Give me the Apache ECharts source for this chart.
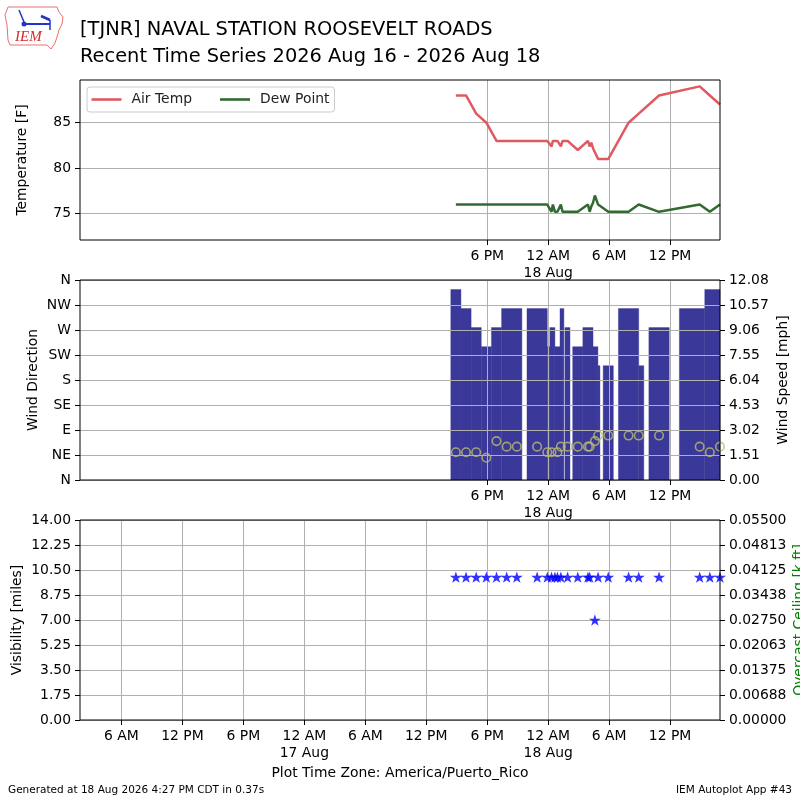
<!DOCTYPE html>
<html><head><meta charset="utf-8">
<script src="https://cdn.jsdelivr.net/npm/echarts@6/dist/echarts.min.js"></script>
<style>html,body{margin:0;padding:0;background:#fff}#c{width:800px;height:800px}</style>
</head><body><div id="c"></div>
<script>
// ---------- data ----------
const obsTime = ['2026-08-17 14:55','2026-08-17 15:55','2026-08-17 16:55','2026-08-17 17:55','2026-08-17 18:55','2026-08-17 19:55','2026-08-17 20:55','2026-08-17 22:55','2026-08-17 23:55',
  '2026-08-18 00:20','2026-08-18 00:28','2026-08-18 00:40','2026-08-18 00:55','2026-08-18 01:15','2026-08-18 01:25','2026-08-18 01:55','2026-08-18 02:55','2026-08-18 03:55',
  '2026-08-18 04:05','2026-08-18 04:15','2026-08-18 04:25','2026-08-18 04:36','2026-08-18 04:55','2026-08-18 05:55','2026-08-18 07:55','2026-08-18 08:55','2026-08-18 10:55',
  '2026-08-18 14:55','2026-08-18 15:55','2026-08-18 16:55'];
const tempF = [88,88,86,85,83,83,83,83,83, 82.4,83,83,83,82.4,83,83,82,83, 82.4,82.8,82.2,82.4,81,81,85,86,88, 89,88,87];
const dewF  = [76,76,76,76,76,76,76,76,76, 75.2,76,75.2,75.2,76,75.2,75.2,75.2,76, 75.2,75.8,76.2,77,76,75.2,75.2,76,75.2, 76,75.2,76];
const windDir = [50,50,50,40,70,60,60,60,50, 50,null,null,50,60,null,60,60,60, 60,null,null,70,80,80,80,80,80, 60,50,60];
const visMiles = [10,10,10,10,10,10,10,10,10, 10,null,10,10,10,null,10,10,10, 10,null,null,7,10,10,10,10,10, 10,10,10];

const windStart = ['2026-08-17 14:25','2026-08-17 15:25','2026-08-17 16:25','2026-08-17 17:25','2026-08-17 18:25','2026-08-17 19:25','2026-08-17 21:55','2026-08-17 23:55',
  '2026-08-18 00:10','2026-08-18 00:40','2026-08-18 01:10','2026-08-18 01:39','2026-08-18 02:25','2026-08-18 03:25','2026-08-18 04:25','2026-08-18 04:54',
  '2026-08-18 05:25','2026-08-18 06:55','2026-08-18 08:55','2026-08-18 09:55','2026-08-18 12:55','2026-08-18 15:25'];
const windEnd = ['2026-08-17 15:25','2026-08-17 16:25','2026-08-17 17:25','2026-08-17 18:25','2026-08-17 19:25','2026-08-17 21:25','2026-08-17 23:55','2026-08-18 00:10',
  '2026-08-18 00:40','2026-08-18 01:10','2026-08-18 01:33','2026-08-18 02:09','2026-08-18 03:25','2026-08-18 04:25','2026-08-18 04:54','2026-08-18 05:06',
  '2026-08-18 06:25','2026-08-18 08:55','2026-08-18 09:25','2026-08-18 11:55','2026-08-18 15:25','2026-08-18 16:55'];
const windKt = [10,9,8,7,8,9,9,7,8,7,9,8,7,8,7,6,6,9,6,8,9,10];

const axisStart = '2026-08-16 01:55';
const axisEnd = '2026-08-18 16:55';
const lowerTicks = ['2026-08-16 06:00','2026-08-16 12:00','2026-08-16 18:00','2026-08-17 00:00','2026-08-17 06:00','2026-08-17 12:00','2026-08-17 18:00','2026-08-18 00:00','2026-08-18 06:00','2026-08-18 12:00'];
const upperTicks = ['2026-08-17 18:00','2026-08-18 00:00','2026-08-18 06:00','2026-08-18 12:00'];
const tempTicks = [75,80,85];
const dirLabels = ['N','NE','E','SE','S','SW','W','NW','N'];
const visTicks = [0,1.75,3.5,5.25,7,8.75,10.5,12.25,14];
const ceilMax = 0.055;
const KT2MPH = 1.15078;
const windMaxKt = 10.5;

// ---------- helpers ----------
function t(s){const p=s.split(' ');const d=p[0].split('-').map(Number);const h=p[1].split(':').map(Number);return new Date(d[0],d[1]-1,d[2],h[0],h[1]).getTime();}
function fmtTime(v){const d=new Date(v);const h=d.getHours();let s=((h%12)||12)+' '+(h<12?'AM':'PM');if(h===0){s+='\n'+d.getDate()+' Aug';}return s;}
const FONT='DejaVu Sans';
const FS=13.9;
const GRIDC='#b0b0b0';
const xMin=t(axisStart), xMax=t(axisEnd);
const lowerT=lowerTicks.map(t), upperT=upperTicks.map(t);
const spdMax=windMaxKt*KT2MPH;
const spdTicks=[0,1,2,3,4,5,6,7,8].map(i=>i*spdMax/8);
const dirTicks=[0,1,2,3,4,5,6,7,8].map(i=>i*45);
const ceilTicks=[0,1,2,3,4,5,6,7,8].map(i=>i*ceilMax/8);

function xAxisDef(gi, ticks, z){
  return {type:'value', gridIndex:gi, min:xMin, max:xMax, z:z||0,
    axisLine:{show:false},
    axisTick:{show:true, length:5, lineStyle:{color:'#000'}, customValues:ticks},
    axisLabel:{customValues:ticks, formatter:fmtTime, color:'#000', fontFamily:FONT, fontSize:FS, lineHeight:17, margin:8},
    splitLine:{show:true, lineStyle:{color:GRIDC, width:1}}};
}
function yAxisDef(o){
  return Object.assign({type:'value', nameLocation:'middle', nameMoveOverlap:false,
    nameTextStyle:{color:'#000', fontFamily:FONT, fontSize:FS},
    axisLine:{show:false},
    axisTick:{show:true, length:5, lineStyle:{color:'#000'}},
    axisLabel:{color:'#000', fontFamily:FONT, fontSize:FS, margin:9},
    splitLine:{show:true, lineStyle:{color:GRIDC, width:1}}}, o);
}

const tempData = obsTime.map((s,i)=>[t(s), tempF[i]]);
const dewData = obsTime.map((s,i)=>[t(s), dewF[i]]);
const dirData = obsTime.map((s,i)=>[t(s), windDir[i]]).filter(d=>d[1]!=null);
const visData = obsTime.map((s,i)=>[t(s), visMiles[i]]).filter(d=>d[1]!=null);
const windData = windKt.map((k,i)=>[t(windStart[i]), t(windEnd[i]), k*KT2MPH]);

const BARC='#3a3898';
const STAR='path://M50,0L61.23,34.55L97.55,34.55L68.17,55.9L79.39,90.45L50,69.1L20.61,90.45L31.83,55.9L2.45,34.55L38.77,34.55Z';

const gridBase = {show:true, borderColor:'#000', borderWidth:1, backgroundColor:'transparent', z:5, containLabel:false, outerBoundsMode:'none'};

const chart = echarts.init(document.getElementById('c'), null, {renderer:'canvas'});
const option = {
  animation:false,
  backgroundColor:'#fff',
  textStyle:{fontFamily:FONT},
  title:[
    {text:'[TJNR] NAVAL STATION ROOSEVELT ROADS', left:80, top:20, padding:0, textStyle:{fontFamily:FONT, fontSize:19.4, fontWeight:'normal', color:'#000'}},
    {text:'Recent Time Series 2026 Aug 16 - 2026 Aug 18', left:80, top:47, padding:0, textStyle:{fontFamily:FONT, fontSize:19.4, fontWeight:'normal', color:'#000'}},
    {text:'Plot Time Zone: America/Puerto_Rico', left:'center', top:766, padding:0, textStyle:{fontFamily:FONT, fontSize:FS, fontWeight:'normal', color:'#000'}},
    {text:'Generated at 18 Aug 2026 4:27 PM CDT in 0.37s', left:8, top:785, padding:0, textStyle:{fontFamily:FONT, fontSize:10.5, fontWeight:'normal', color:'#000'}},
    {text:'IEM Autoplot App #43', right:8, top:785, padding:0, textStyle:{fontFamily:FONT, fontSize:10.5, fontWeight:'normal', color:'#000'}}
  ],
  graphic:[
    {type:'polyline', shape:{points:[[8,7],[57,7],[59,12],[63,17],[62,24],[59,30],[57,37],[55,43],[51,49],[47,45],[10,45],[8,40],[7,25],[5,15],[8,7]]}, style:{stroke:'#e87070', fill:null, lineWidth:1}},
    {type:'line', shape:{x1:24,y1:24,x2:50,y2:24}, style:{stroke:'#2233cc', lineWidth:2}},
    {type:'line', shape:{x1:19,y1:10,x2:24,y2:22}, style:{stroke:'#2233cc', lineWidth:1.5}},
    {type:'line', shape:{x1:41,y1:16,x2:50,y2:20}, style:{stroke:'#2233cc', lineWidth:2.5}},
    {type:'line', shape:{x1:50,y1:20,x2:50,y2:30}, style:{stroke:'#2233cc', lineWidth:1.5}},
    {type:'circle', shape:{cx:24,cy:24,r:2.5}, style:{fill:'#2233cc'}},
    {type:'text', x:15, y:30, style:{text:'IEM', font:'italic 15px "Liberation Serif"', fill:'#d42a2a'}}
  ],
  legend:{show:true, left:87, top:87, padding:[5,5,5,4.5], itemWidth:30, itemHeight:2.6, itemGap:28,
    backgroundColor:'#fff', borderColor:'#cccccc', borderWidth:1, borderRadius:3,
    textStyle:{fontFamily:FONT, fontSize:FS, color:'#222', padding:[0,0,0,5], lineHeight:15},
    data:[{name:'Air Temp', icon:'rect'},{name:'Dew Point', icon:'rect'}]},
  grid:[
    Object.assign({left:80, top:80, width:640, height:160}, gridBase),
    Object.assign({left:80, top:280, width:640, height:200}, gridBase),
    Object.assign({left:80, top:520, width:640, height:200}, gridBase)
  ],
  xAxis:[ xAxisDef(0, upperT), xAxisDef(1, upperT, 3), xAxisDef(2, lowerT) ],
  yAxis:[
    yAxisDef({gridIndex:0, min:72.1, max:89.7, name:'Temperature [F]', nameGap:51,
      axisTick:{show:true, length:5, lineStyle:{color:'#000'}, customValues:tempTicks},
      axisLabel:{color:'#000', fontFamily:FONT, fontSize:FS, margin:9, customValues:tempTicks}}),
    yAxisDef({gridIndex:1, min:0, max:360, name:'Wind Direction', nameGap:40, z:3,
      axisTick:{show:true, length:5, lineStyle:{color:'#000'}, customValues:dirTicks},
      axisLabel:{color:'#000', fontFamily:FONT, fontSize:FS, margin:9, customValues:dirTicks, formatter:v=>dirLabels[Math.round(v/45)]}}),
    yAxisDef({gridIndex:1, min:0, max:spdMax, position:'right', name:'Wind Speed [mph]', nameGap:56, z:3,
      splitLine:{show:false},
      axisTick:{show:true, length:5, lineStyle:{color:'#000'}, customValues:spdTicks},
      axisLabel:{color:'#000', fontFamily:FONT, fontSize:FS, margin:9, customValues:spdTicks, formatter:v=>(v+1e-9).toFixed(2)}}),
    yAxisDef({gridIndex:2, min:0, max:14, name:'Visibility [miles]', nameGap:56,
      axisTick:{show:true, length:5, lineStyle:{color:'#000'}, customValues:visTicks},
      axisLabel:{color:'#000', fontFamily:FONT, fontSize:FS, margin:9, customValues:visTicks, formatter:v=>(v+1e-9).toFixed(2)}}),
    yAxisDef({gridIndex:2, min:0, max:ceilMax, position:'right', name:'Overcast Ceiling [k ft]', nameGap:72,
      nameTextStyle:{color:'#008000', fontFamily:FONT, fontSize:FS},
      splitLine:{show:false},
      axisTick:{show:true, length:5, lineStyle:{color:'#000'}, customValues:ceilTicks},
      axisLabel:{color:'#000', fontFamily:FONT, fontSize:FS, margin:9, customValues:ceilTicks, formatter:v=>(v+1e-10).toFixed(5)}})
  ],
  series:[
    {name:'Air Temp', type:'line', xAxisIndex:0, yAxisIndex:0, data:tempData, symbol:'none', showSymbol:false,
      lineStyle:{color:'#df5a60', width:2.5}, itemStyle:{color:'#df5a60'}, z:3},
    {name:'Dew Point', type:'line', xAxisIndex:0, yAxisIndex:0, data:dewData, symbol:'none', showSymbol:false,
      lineStyle:{color:'#336a33', width:2.5}, itemStyle:{color:'#336a33'}, z:3},
    {name:'Wind Speed', type:'custom', xAxisIndex:1, yAxisIndex:2, data:windData, z:1,
      encode:{x:[0,1], y:2},
      renderItem:function(params, api){
        const p0=api.coord([api.value(0), api.value(2)]);
        const p1=api.coord([api.value(1), 0]);
        const cs=params.coordSys;
        const shape=echarts.graphic.clipRectByRect({x:p0[0], y:p0[1], width:p1[0]-p0[0], height:p1[1]-p0[1]}, {x:cs.x, y:cs.y, width:cs.width, height:cs.height});
        return shape && {type:'rect', shape:shape, style:{fill:BARC, stroke:BARC, lineWidth:0.4}};
      }},
    {name:'Wind Direction', type:'scatter', xAxisIndex:1, yAxisIndex:1, data:dirData, symbol:'circle', symbolSize:8.5, z:4,
      itemStyle:{color:'rgba(0,0,0,0)', borderColor:'#bcbc6c', borderWidth:1.6}},
    {name:'Visibility', type:'scatter', xAxisIndex:2, yAxisIndex:3, data:visData, symbol:STAR, symbolSize:12, symbolKeepAspect:true, z:4,
      itemStyle:{color:'#0000ff'}}
  ]
};
chart.setOption(option);
</script>
</body></html>
